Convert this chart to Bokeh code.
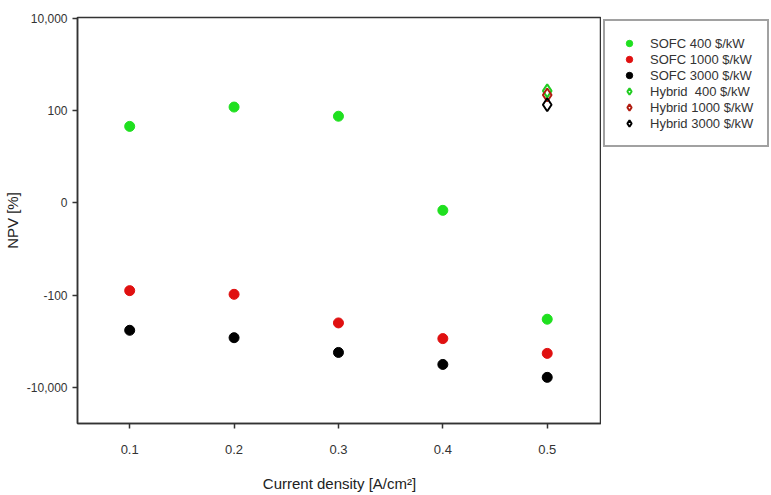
import math
from bokeh.plotting import figure
from bokeh.layouts import row
from bokeh.models import FixedTicker, Legend, LegendItem, ColumnDataSource
from bokeh.embed import file_html
from bokeh.resources import INLINE

# ---- data (NPV in %) ----
current_density = [0.1, 0.2, 0.3, 0.4, 0.5]
sofc_400 = [83, 120, 94, -8, -331]
sofc_1000 = [-95, -99, -398, -871, -1820]
sofc_3000 = [-575, -832, -1738, -3162, -6026]
hybrid_x = [0.5]
hybrid_400 = [269]
hybrid_1000 = [219]
hybrid_3000 = [135]

y_tick_values = [10000, 100, 0, -100, -10000]
y_tick_labels = ["10,000", "100", "0", "-100", "-10,000"]

series_labels = ["SOFC 400 $/kW", "SOFC 1000 $/kW", "SOFC 3000 $/kW",
                 "Hybrid  400 $/kW", "Hybrid 1000 $/kW", "Hybrid 3000 $/kW"]


def tr(v):
    """symmetric log-type transform: linear within +-100, log beyond"""
    if abs(v) <= 100:
        return v / 100.0
    return math.copysign(math.log10(abs(v)) / 2.0, v)


def src(xs, ys):
    return ColumnDataSource(dict(x=xs, y=[tr(v) for v in ys], npv=ys))


H = 495
p = figure(width=601, height=H, output_backend="svg", toolbar_location=None,
           x_range=(0.05, 0.552), y_range=(-2.39, 2.01),
           min_border_left=77, min_border_right=0, min_border_top=17,
           min_border_bottom=72)
p.background_fill_color = "white"
p.border_fill_color = "white"
p.xgrid.visible = False
p.ygrid.visible = False
p.outline_line_color = "#333333"
p.outline_line_width = 1.5

# axes
p.xaxis.ticker = FixedTicker(ticks=current_density)
p.yaxis.ticker = FixedTicker(ticks=[tr(v) for v in y_tick_values])
p.yaxis.major_label_overrides = {tr(v): lab for v, lab in zip(y_tick_values, y_tick_labels)}
for ax in (p.xaxis[0], p.yaxis[0]):
    ax.axis_line_color = "#333333"
    ax.axis_line_width = 1.5
    ax.major_tick_line_color = "#333333"
    ax.major_tick_line_width = 1.5
    ax.major_tick_out = 5
    ax.major_tick_in = 0
    ax.minor_tick_line_color = None
    ax.major_label_text_font = "Liberation Sans"
    ax.major_label_text_color = "#333333"
    ax.axis_label_text_font = "Liberation Sans"
    ax.axis_label_text_font_style = "normal"
    ax.axis_label_text_color = "#222222"

p.xaxis.major_label_text_font_size = "13px"
p.yaxis.major_label_text_font_size = "12px"
p.xaxis.major_label_standoff = 16
p.yaxis.major_label_standoff = 5
p.xaxis.axis_label = "Current density [A/cm\u00b2]"
p.yaxis.axis_label = "NPV [%]"
p.xaxis.axis_label_text_font_size = "15px"
p.yaxis.axis_label_text_font_size = "15px"
p.xaxis.axis_label_standoff = 18
p.yaxis.axis_label_standoff = 3

styles = [
    dict(marker="circle", size=10, fill_color="#1fe01f", line_color="#1fe01f", line_width=1),
    dict(marker="circle", size=10, fill_color="#e01010", line_color="#e01010", line_width=1),
    dict(marker="circle", size=10, fill_color="#000000", line_color="#000000", line_width=1),
    dict(marker="diamond", size=13, fill_color=None, line_color="#22cc22", line_width=2),
    dict(marker="diamond", size=13, fill_color=None, line_color="#b01c10", line_width=2),
    dict(marker="diamond", size=13, fill_color=None, line_color="#000000", line_width=2),
]
series = [(current_density, sofc_400), (current_density, sofc_1000),
          (current_density, sofc_3000), (hybrid_x, hybrid_400),
          (hybrid_x, hybrid_1000), (hybrid_x, hybrid_3000)]

sources = []
for (xs, ys), st in zip(series, styles):
    s = src(xs, ys)
    sources.append(s)
    p.scatter("x", "y", source=s, **st)

# ---- legend panel (separate figure to the right of the plot box) ----
# its ranges lie away from the data, so only the legend is visible there
lg = figure(width=170, height=H, output_backend="svg", toolbar_location=None,
            x_axis_type=None, y_axis_type=None, x_range=(10, 11), y_range=(10, 11),
            min_border_left=0, min_border_right=0, min_border_top=16,
            min_border_bottom=0)
lg.outline_line_color = None
lg.xgrid.visible = False
lg.ygrid.visible = False
lg.background_fill_color = "white"
lg.border_fill_color = "white"

items = []
for lab, st, s in zip(series_labels, styles, sources):
    r = lg.scatter("x", "y", source=s, **st)
    items.append(LegendItem(label=lab, renderers=[r]))

legend = Legend(items=items, location="top_left")
legend.margin = 2
legend.padding = 14
legend.spacing = 0
legend.label_height = 16
legend.glyph_height = 16
legend.glyph_width = 20
legend.label_standoff = 11
legend.label_text_font = "Liberation Sans"
legend.label_text_font_size = "13px"
legend.label_text_color = "#333333"
legend.border_line_color = "#444444"
legend.border_line_width = 2
legend.background_fill_color = "white"
legend.background_fill_alpha = 1.0
lg.add_layout(legend)

layout = row(p, lg, spacing=0)
open("out.html", "w").write(file_html(layout, INLINE))
